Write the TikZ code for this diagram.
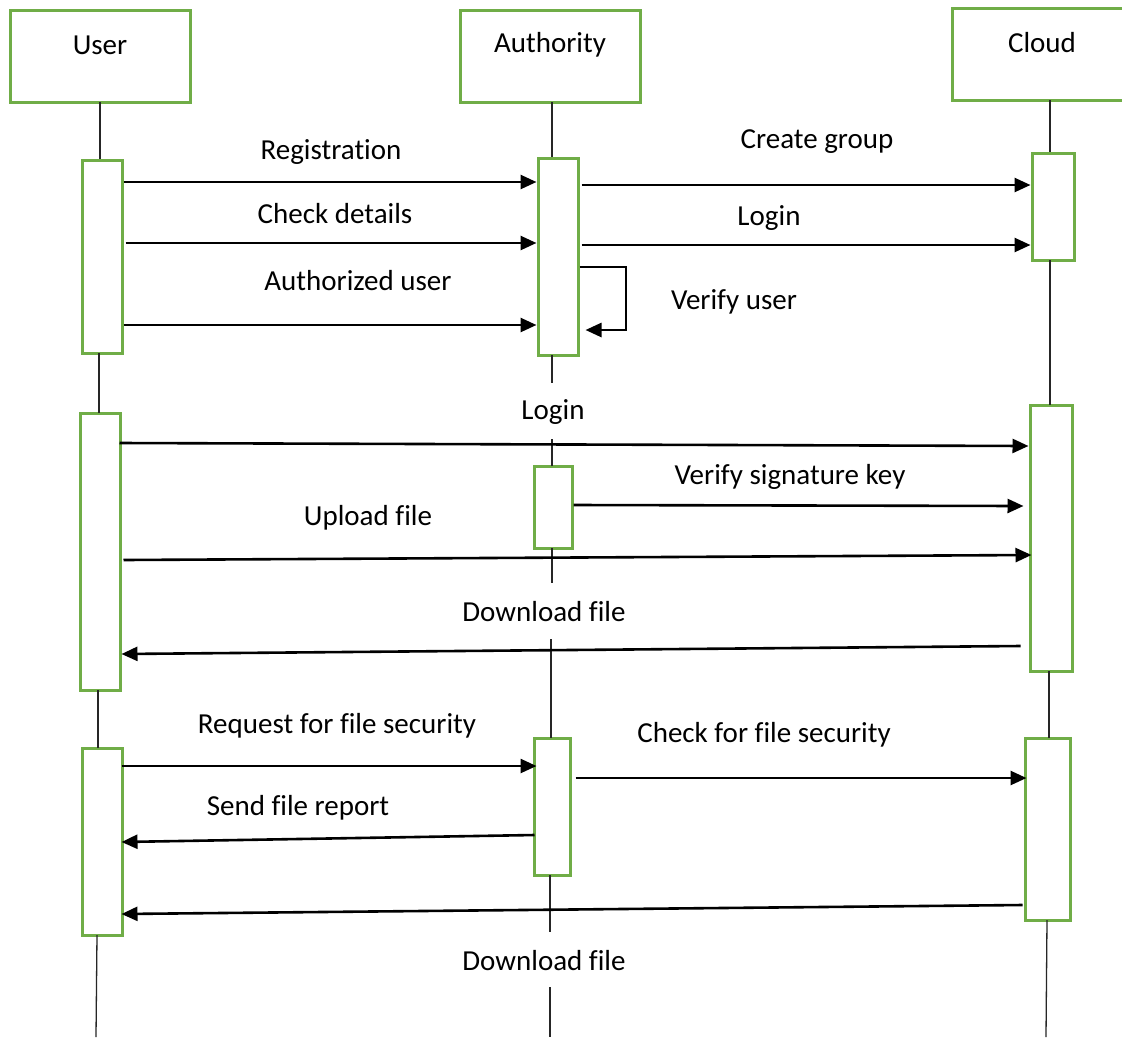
\documentclass[tikz,border=0pt]{standalone}
\usepackage{fontspec}
\setmainfont{Carlito}[Ligatures=NoCommon]
\usetikzlibrary{arrows.meta}
\definecolor{boxgreen}{HTML}{70AD47}
\tikzset{
  head/.style={draw=boxgreen, line width=3pt, rectangle, inner sep=0pt},
  act/.style={draw=boxgreen, line width=3pt, fill=white, rectangle, inner sep=0pt},
  life/.style={draw=black!85, line width=1.3pt},
  msg/.style={draw=black, line width=2.6pt, -{Triangle[length=16pt,width=14pt]}},
  lbl/.style={font=\fontsize{29}{34}\selectfont, inner sep=0pt, text=black},
}
% activation box: name, left, top, right, bottom (pixel-like units, y downwards)
\newcommand\actbox[5]{%
  \node[act, minimum width={(#4)-(#2)}, minimum height={(#5)-(#3)}] (#1)
    at ({((#2)+(#4))/2},{((#3)+(#5))/2}) {};}
\begin{document}
\begin{tikzpicture}[x=1pt, y=-1pt]
\clip (0,0) rectangle (1122,1037);
\fill[white] (0,0) rectangle (1122,1037);

% participants
\node[head, minimum width=180pt, minimum height=92pt] (user) at (100,56) {};
\node[head, minimum width=180pt, minimum height=92pt] (auth) at (550,56) {};
\node[head, minimum width=180pt, minimum height=92pt] (cloud) at (1042,54) {};
\node[lbl] (userlbl) at (100,45) {User};
\node[lbl] (authlbl) at (550,45) {Authority};
\node[lbl] (cloudlbl) at (1042,43) {Cloud};

% lifeline anchors
\coordinate (ul) at (100,102);
\coordinate (al) at (552,102);
\coordinate (cl) at (1050,100);

% activation boxes
\actbox{ua1}{82}{160}{122}{353}
\actbox{ua2}{80}{413}{120}{690}
\actbox{ua3}{82}{748}{122}{935}
\actbox{aa1}{538}{158}{578}{355}
\actbox{aa2}{534}{466}{572}{548}
\actbox{aa3}{534}{738}{570}{875}
\actbox{ca1}{1032}{153}{1074}{260}
\actbox{ca2}{1030}{405}{1072}{671}
\actbox{ca3}{1025}{738}{1070}{920}

% lifelines of User
\draw[life] (ul) -- (ul |- ua1.north);
\draw[life] (99,353) -- (99,413);
\draw[life] (98,690) -- (98,748);
\draw[life] (97,935) -- (96,1037);
% lifelines of Authority
\draw[life] (al) -- (al |- aa1.north);
\draw[life] (552,355) -- (552,383);
\draw[life] (552,439) -- (552,466);
\draw[life] (552,548) -- (552,583);
\draw[life] (551,639) -- (551,738);
\draw[life] (550,875) -- (550,932);
\draw[life] (550,987) -- (550,1037);
% lifelines of Cloud
\draw[life] (cl) -- (cl |- ca1.north);
\draw[life] (1050,260) -- (1050,405);
\draw[life] (1049,671) -- (1049,738);
\draw[life] (1047,920) -- (1046,1037);

% messages
\draw[msg] (ua1.east |- 0,182) -- (aa1.west |- 0,182);
\node[lbl] (m1) at (331,152) {Registration};
\draw[msg] ([xshift=2pt]ua1.east |- 0,243) -- (aa1.west |- 0,243);
\node[lbl] (m2) at (335,214) {Check details};
\draw[msg] (ua1.east |- 0,325) -- (aa1.west |- 0,325);
\node[lbl] (m3) at (358,281) {Authorized user};

\draw[msg] ([xshift=2pt]aa1.east |- 0,185) -- (ca1.west |- 0,185);
\node[lbl] (m4) at (817,142) {Create group};
\draw[msg] ([xshift=2pt]aa1.east |- 0,245) -- (ca1.west |- 0,245);
\node[lbl] (m5) at (769,218) {Login};
\draw[msg] (aa1.east |- 0,267) -- (626,267) -- (626,330) -- ([xshift=6pt]aa1.east |- 0,330);
\node[lbl] (m6) at (734,302) {Verify user};

\draw[msg] ([xshift=-2pt]ua2.east |- 0,443) -- (ca2.west |- 0,446);
\node[lbl] (m7) at (553,412) {Login};
\draw[msg] (aa2.east |- 0,505) -- ([xshift=-5pt]ca2.west |- 0,506);
\node[lbl] (m8) at (790,477) {Verify signature key};
\draw[msg] ([xshift=2pt]ua2.east |- 0,560) -- ([xshift=3pt]ca2.west |- 0,555);
\node[lbl] (m9) at (368,518) {Upload file};
\draw[msg] ([xshift=-8pt]ca2.west |- 0,646) -- (ua2.east |- 0,654);
\node[lbl] (m10) at (544,612) {Download file};

\draw[msg] ([xshift=-2pt]ua3.east |- 0,766) -- ([xshift=4pt]aa3.west |- 0,766);
\node[lbl] (m11) at (337,726) {Request for file security};
\draw[msg] ([xshift=4pt]aa3.east |- 0,778) -- ([xshift=3pt]ca3.west |- 0,778);
\node[lbl] (m12) at (764,735) {Check for file security};
\draw[msg] ([xshift=2pt]aa3.west |- 0,835) -- ([xshift=-2pt]ua3.east |- 0,842);
\node[lbl] (m13) at (298,808) {Send file report};
\draw[msg] ([xshift=-1pt]ca3.west |- 0,905) -- ([xshift=-2pt]ua3.east |- 0,914);
\node[lbl] (m14) at (544,961) {Download file};
\end{tikzpicture}
\end{document}
